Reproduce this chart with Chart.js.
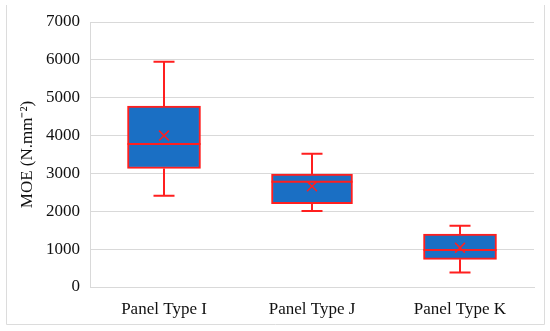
<!DOCTYPE html>
<html>
<head>
<meta charset="utf-8">
<script src="https://cdn.jsdelivr.net/npm/chart.js@4/dist/chart.umd.min.js"></script>
<style>
  html, body { margin: 0; padding: 0; background: #ffffff; }
  #wrap { width: 550px; height: 331px; }
</style>
</head>
<body>
<div id="wrap"><canvas id="c" width="550" height="331"></canvas></div>
<script>
// ---- data ----
const categories = ['Panel Type I', 'Panel Type J', 'Panel Type K'];
const minVals    = [2410, 2010, 380];
const q1Vals     = [3130, 2200, 730];
const medianVals = [3780, 2780, 975];
const q3Vals     = [4780, 2985, 1395];
const maxVals    = [5950, 3520, 1615];
const meanVals   = [4000, 2660, 1035];
const yTicks     = [0, 1000, 2000, 3000, 4000, 5000, 6000, 7000];

// ---- styles ----
const boxWidths = [73, 81, 73];
const RED = '#ff1f1f';
const BLUE = '#1a6fc4';
const GRID = '#d9d9d9';
const FONT = "'Liberation Serif', 'Times New Roman', serif";
const FSIZE = 17;

const boxDatasets = categories.map((c, i) => ({
  type: 'bar',
  label: c,
  data: categories.map((_, j) => j === i ? [q1Vals[i], q3Vals[i]] : null),
  backgroundColor: BLUE,
  borderColor: RED,
  borderWidth: 2,
  borderSkipped: false,
  barThickness: boxWidths[i],
  grouped: false,
  order: 1
}));

const meanDataset = {
  type: 'line',
  label: 'Mean',
  data: meanVals,
  showLine: false,
  pointStyle: 'crossRot',
  pointRadius: 7,
  pointBorderWidth: 1.5,
  borderColor: RED,
  backgroundColor: RED,
  order: 0
};

const boxPlugin = {
  id: 'boxParts',
  beforeDraw(chart) {
    const ctx = chart.ctx;
    ctx.save();
    ctx.fillStyle = '#ffffff';
    ctx.fillRect(0, 0, chart.width, chart.height);
    ctx.strokeStyle = '#dcdcdc';
    ctx.lineWidth = 1;
    ctx.beginPath();
    ctx.moveTo(6.5, 5);
    ctx.lineTo(6.5, 324.5);
    ctx.lineTo(544.5, 324.5);
    ctx.lineTo(544.5, 5);
    ctx.stroke();
    ctx.restore();
  },
  beforeDatasetsDraw(chart) {
    const ctx = chart.ctx, xs = chart.scales.x, ys = chart.scales.y;
    ctx.save();
    ctx.strokeStyle = RED;
    ctx.lineWidth = 2;
    categories.forEach((_, i) => {
      const x = xs.getPixelForValue(i);
      const yMax = ys.getPixelForValue(maxVals[i]);
      const yMin = ys.getPixelForValue(minVals[i]);
      const yQ1 = ys.getPixelForValue(q1Vals[i]);
      const yQ3 = ys.getPixelForValue(q3Vals[i]);
      const cap = 10.5;
      ctx.beginPath();
      ctx.moveTo(x, yMax); ctx.lineTo(x, yQ3);
      ctx.moveTo(x, yQ1); ctx.lineTo(x, yMin);
      ctx.moveTo(x - cap, yMax); ctx.lineTo(x + cap, yMax);
      ctx.moveTo(x - cap, yMin); ctx.lineTo(x + cap, yMin);
      ctx.stroke();
    });
    ctx.restore();
  },
  afterDatasetDraw(chart, args) {
    if (args.index >= categories.length) return;
    const i = args.index;
    const el = args.meta.data[i];
    if (!el) return;
    const ctx = chart.ctx, ys = chart.scales.y;
    const y = ys.getPixelForValue(medianVals[i]);
    ctx.save();
    ctx.strokeStyle = RED;
    ctx.lineWidth = 2;
    ctx.beginPath();
    ctx.moveTo(el.x - el.width / 2, y);
    ctx.lineTo(el.x + el.width / 2, y);
    ctx.stroke();
    ctx.restore();
  }
};

new Chart(document.getElementById('c'), {
  type: 'bar',
  data: { labels: categories, datasets: [...boxDatasets, meanDataset] },
  plugins: [boxPlugin],
  options: {
    responsive: false,
    animation: false,
    layout: { padding: { left: 6, right: 16, top: 22, bottom: 0 } },
    plugins: { legend: { display: false }, tooltip: { enabled: false } },
    scales: {
      x: {
        grid: { display: false, drawTicks: false },
        border: { display: true, color: GRID },
        ticks: { color: '#111', font: { family: FONT, size: FSIZE }, padding: 12 },
        afterFit(s) { s.height = 44; }
      },
      y: {
        min: 0, max: 7000,
        afterBuildTicks(s) { s.ticks = yTicks.map(v => ({ value: v })); },
        grid: { color: GRID, drawTicks: false },
        border: { display: true, color: GRID },
        ticks: {
          color: '#111', font: { family: FONT, size: FSIZE }, padding: 10,
          callback: v => String(v)
        },
        title: {
          display: true,
          text: 'MOE (N.mm\u207B\u00B2)',
          color: '#111',
          font: { family: FONT, size: FSIZE },
          padding: { top: 11, bottom: 0 }
        },
        afterFit(s) { s.width = 84; }
      }
    }
  }
});
</script>
</body>
</html>
